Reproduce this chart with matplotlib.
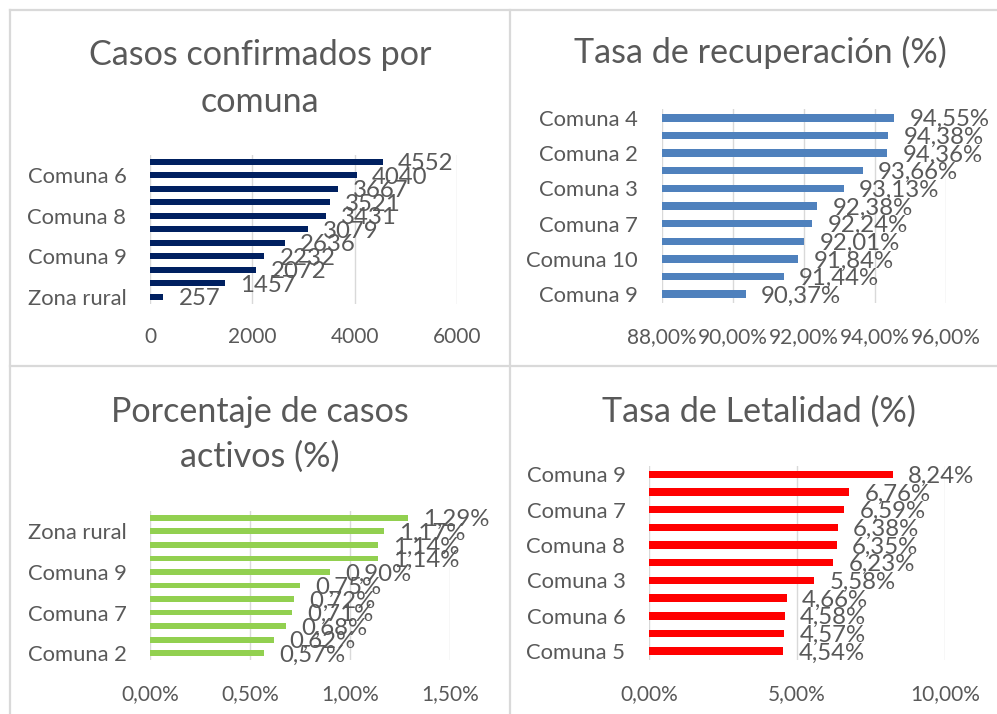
import matplotlib
matplotlib.use('Agg')
import matplotlib.pyplot as plt
from matplotlib.lines import Line2D

plt.rcParams['font.family'] = ['Lato', 'DejaVu Sans']

W, H = 997, 714
TXT = '#595959'
GRID = '#d9d9d9'

# data, listed bottom bar first (Excel order); '' = label hidden in the chart
casos_lab = ['Zona rural', '', '', 'Comuna 9', '', '', 'Comuna 8', '', '', 'Comuna 6', '']
casos_val = [257, 1457, 2072, 2232, 2636, 3079, 3431, 3521, 3667, 4040, 4552]

recup_lab = ['Comuna 9', '', 'Comuna 10', '', 'Comuna 7', '', 'Comuna 3', '', 'Comuna 2', '', 'Comuna 4']
recup_val = [90.37, 91.44, 91.84, 92.01, 92.24, 92.38, 93.13, 93.66, 94.36, 94.38, 94.55]

activos_lab = ['Comuna 2', '', '', 'Comuna 7', '', '', 'Comuna 9', '', '', 'Zona rural', '']
activos_val = [0.57, 0.62, 0.68, 0.71, 0.72, 0.75, 0.90, 1.14, 1.14, 1.17, 1.29]

letal_lab = ['Comuna 5', '', 'Comuna 6', '', 'Comuna 3', '', 'Comuna 8', '', 'Comuna 7', '', 'Comuna 9']
letal_val = [4.54, 4.57, 4.58, 4.66, 5.58, 6.23, 6.35, 6.38, 6.59, 6.76, 8.24]


def pct(v):
    return f'{v:.2f}%'.replace('.', ',')


def panel(fig, box, labels, vals, color, xlim, xticks, fmt, left=0):
    x0, y0, x1, y1 = box  # pixel box, y from top
    ax = fig.add_axes([x0 / W, 1 - y1 / H, (x1 - x0) / W, (y1 - y0) / H])
    pos = list(range(len(vals)))
    ax.barh(pos, [v - left for v in vals], left=left, height=0.42, color=color, zorder=3)
    ax.set_xlim(*xlim)
    ax.set_ylim(-0.5, len(vals) - 0.5)
    ax.set_xticks(xticks)
    ax.set_xticklabels([fmt(t) for t in xticks])
    ax.set_yticks(pos)
    ax.set_yticklabels(labels)
    ax.tick_params(length=0, labelsize=15, colors=TXT)
    ax.tick_params(axis='y', labelsize=15.8, pad=17)
    ax.tick_params(axis='x', pad=17)
    ax.grid(axis='x', color=GRID, linewidth=1, zorder=0)
    for s in ax.spines.values():
        s.set_visible(False)
    for p, v in zip(pos, vals):
        ax.annotate(fmt(v), (v, p), xytext=(11, 0), textcoords='offset points',
                    va='center_baseline', ha='left', fontsize=17.3, color=TXT, zorder=4)
    return ax


fig = plt.figure(figsize=(W / 100, H / 100), dpi=100)

# chart borders
for xs, ys in [([10, 10], [10, H]), ([10, W], [10, 10]), ([510, 510], [10, H]), ([10, W], [366, 366])]:
    fig.add_artist(Line2D([x / W for x in xs], [1 - y / H for y in ys], color=GRID, linewidth=1.6))

panel(fig, (150, 155, 457, 303.5), casos_lab, casos_val, '#002060',
      (0, 6000), [0, 2000, 4000, 6000], lambda v: f'{v:.0f}')
panel(fig, (661.7, 109, 945.7, 303), recup_lab, recup_val, '#4f81bd',
      (88, 96), [88, 90, 92, 94, 96], pct, left=88)
panel(fig, (150, 511, 450, 660), activos_lab, activos_val, '#92d050',
      (0, 1.5), [0, 0.5, 1.0, 1.5], pct)
panel(fig, (649, 465.5, 945, 660), letal_lab, letal_val, '#ff0000',
      (0, 10), [0, 5, 10], pct)

titles = [
    (260, 65, 'Casos confirmados por'), (260, 111.5, 'comuna'),
    (760, 63, 'Tasa de recuperación (%)'),
    (260, 421.5, 'Porcentaje de casos'), (260, 467, 'activos (%)'),
    (759, 421.5, 'Tasa de Letalidad (%)'),
]
for x, y, t in titles:
    fig.text(x / W, 1 - y / H, t, ha='center', va='baseline', fontsize=24.6, color=TXT)

fig.savefig('out.png', dpi=100)
